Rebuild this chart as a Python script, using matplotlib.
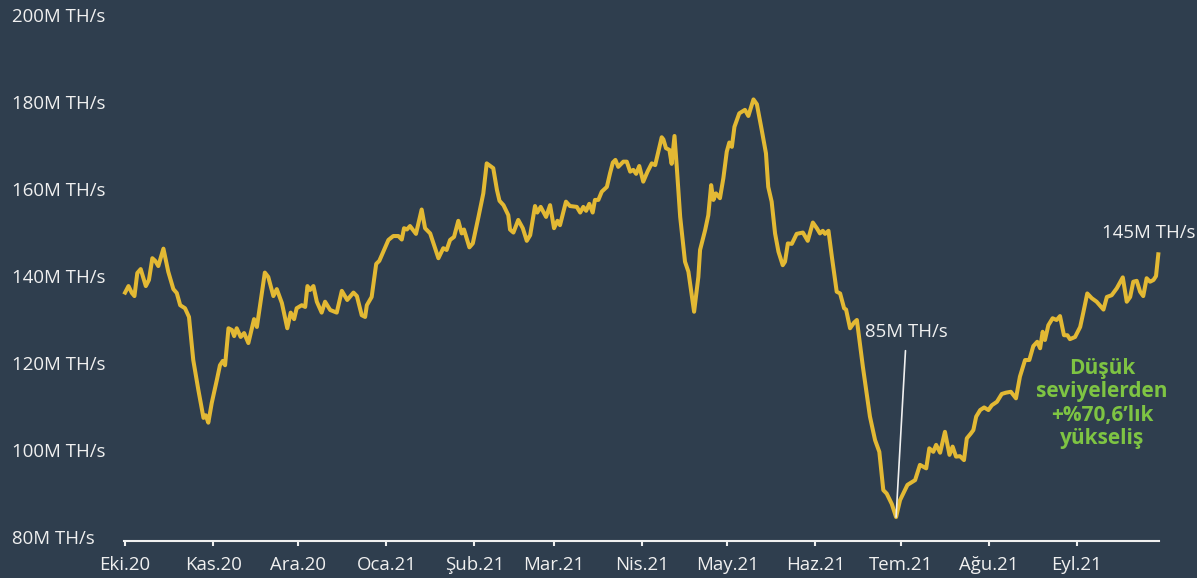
import matplotlib
matplotlib.use("Agg")
import matplotlib.pyplot as plt
import numpy as np
import pandas as pd

START = pd.Timestamp("2020-10-01")

# days since START
days = [
    0.0, 1.2, 2.4, 3.3, 4.3, 5.5, 7.3, 8.4, 9.6, 10.6,
    11.7, 13.5, 15.2, 17.0, 18.2, 19.4, 21.1, 22.5, 24.0, 25.8,
    27.6, 28.4, 29.3, 30.5, 32.3, 33.4, 34.4, 35.2, 36.4, 37.6,
    38.4, 39.3, 40.7, 41.9, 43.4, 45.4, 46.4, 47.8, 49.2, 50.4,
    52.2, 53.4, 55.2, 57.1, 58.3, 59.5, 60.4, 62.2, 63.4, 64.2,
    65.1, 66.3, 67.5, 69.2, 70.4, 72.2, 74.5, 76.3, 78.2, 80.4,
    81.6, 83.3, 84.5, 85.1, 86.8, 88.4, 89.5,
    90.9, 92.7, 94.4, 96.2, 97.4, 98.2, 99.2, 100.3, 102.4, 104.4,
    105.6, 107.4, 110.3, 112.0, 113.2, 114.4, 115.8, 117.3, 118.5, 119.3,
    121.2, 122.4, 124.4, 126.1, 127.3, 129.6, 130.9, 131.8, 133.2, 134.9,
    135.5, 136.7, 138.4, 140.0, 141.4, 142.6, 144.3, 145.1, 146.3, 148.2,
    149.6, 151.0, 152.2, 153.1, 155.2, 156.6, 159.0, 160.2, 161.3, 162.3,
    163.4, 164.6, 165.4, 166.6, 167.8, 169.6, 170.7, 171.7, 172.6, 173.6,
    175.4, 176.6, 177.8, 178.9, 179.9, 181.0, 182.4, 183.9, 185.4, 186.6,
    187.7, 188.9, 189.5, 190.4, 191.6, 192.4, 193.4, 194.2,
    195.4, 197.1, 198.3, 200.3, 201.8, 202.4, 204.2, 205.3, 206.3, 207.1,
    208.0, 209.4, 210.6, 211.8, 212.7, 213.6, 214.5, 216.2, 218.2, 219.4,
    221.2, 222.4, 224.1, 225.6, 226.4, 227.6, 228.8, 230.0, 231.5, 232.3,
    233.3, 234.7, 236.4, 238.6, 240.3, 242.1, 243.5, 244.6, 245.6, 246.4,
    247.6, 248.8, 250.5, 251.7, 253.1, 253.8, 255.2, 256.6, 257.6, 259.7,
    262.2, 264.0, 265.5, 266.9, 268.1, 269.9, 271.4,
    272.8, 275.4, 278.1, 279.8, 282.0, 283.1, 284.5, 285.5, 286.9, 288.6,
    290.2, 291.3, 292.5, 293.9, 295.3, 296.3, 297.7, 298.6, 299.6, 301.0,
    302.4, 303.9, 305.1, 306.9, 308.6, 310.1, 311.8, 313.6, 315.0, 316.8,
    318.3, 319.7, 321.1, 322.1, 323.0, 323.8, 325.0, 326.5, 327.9, 329.1,
    330.5, 331.7, 332.6, 334.4, 336.2, 337.3, 338.7, 340.3, 342.0, 344.4,
    345.6, 347.3, 349.1, 351.2, 352.6, 353.8, 354.9, 356.1, 357.3, 358.4,
    359.6, 360.8, 362.0, 362.9, 363.7,
]

# hashrate, M TH/s
hashrate = [
    136.2, 137.7, 136.1, 135.4, 140.7, 141.6, 137.7, 139.1, 144.1, 143.5,
    142.3, 146.3, 141.0, 137.0, 136.1, 133.3, 132.6, 130.6, 120.7, 113.8,
    107.4, 108.0, 106.3, 110.8, 116.1, 119.5, 120.5, 119.5, 128.0, 127.6,
    126.2, 128.0, 126.0, 126.9, 124.6, 130.1, 128.3, 134.5, 140.8, 139.8,
    135.4, 137.0, 133.8, 128.0, 131.6, 130.1, 132.6, 133.3, 132.9, 137.7,
    136.8, 137.7, 134.1, 131.6, 134.1, 132.2, 131.6, 136.6, 134.5, 136.2,
    135.4, 131.0, 130.6, 133.3, 135.2, 142.8, 143.5,
    145.6, 148.3, 149.2, 149.2, 148.4, 151.0, 150.7, 151.5, 149.7, 155.3,
    151.0, 149.8, 144.1, 146.4, 146.0, 148.3, 149.0, 152.7, 149.8, 150.7,
    146.6, 147.5, 153.6, 159.0, 165.9, 164.8, 159.8, 157.3, 156.3, 154.0,
    150.7, 150.0, 152.9, 151.0, 148.1, 149.4, 156.1, 154.6, 155.9, 153.6,
    156.3, 151.0, 152.7, 151.7, 157.1, 156.1, 155.9, 154.6, 155.9, 155.0,
    156.6, 154.6, 157.5, 157.5, 159.4, 160.5, 163.6, 166.1, 166.7, 165.1,
    166.3, 166.3, 164.0, 164.4, 163.5, 165.3, 161.7, 164.0, 165.9, 165.5,
    168.6, 171.9, 171.4, 169.4, 169.0, 165.8, 172.2, 165.1,
    153.6, 143.3, 141.0, 131.8, 139.8, 146.0, 150.6, 154.0, 160.9, 157.5,
    159.0, 157.9, 162.5, 168.6, 170.7, 169.7, 174.3, 177.4, 178.2, 176.8,
    180.6, 179.5, 173.6, 168.2, 160.5, 157.1, 149.8, 145.6, 142.5, 143.3,
    147.5, 147.4, 149.7, 150.0, 148.1, 152.3, 151.0, 149.8, 150.4, 149.7,
    150.4, 144.4, 136.4, 136.0, 132.6, 132.3, 128.0, 129.3, 129.9, 119.2,
    107.7, 102.3, 99.6, 90.8, 90.0, 87.6, 84.6,
    88.5, 92.0, 93.1, 96.6, 95.8, 100.4, 99.6, 101.2, 99.4, 104.2,
    98.9, 100.8, 98.5, 98.6, 97.7, 102.7, 103.8, 104.6, 107.7, 109.2,
    109.8, 109.2, 110.3, 111.1, 112.9, 113.2, 113.4, 111.9, 116.9, 120.7,
    120.7, 123.9, 124.9, 123.4, 127.2, 125.3, 128.7, 130.3, 129.9, 130.8,
    126.4, 126.4, 125.5, 126.0, 128.3, 131.6, 136.0, 134.9, 134.1, 132.3,
    135.2, 135.6, 137.2, 139.7, 134.1, 135.2, 138.7, 138.9, 136.4, 135.4,
    139.5, 138.7, 139.1, 140.0, 145.0,
]

month_labels = ["Eki.20", "Kas.20", "Ara.20", "Oca.21", "Şub.21", "Mar.21",
                "Nis.21", "May.21", "Haz.21", "Tem.21", "Ağu.21", "Eyl.21"]
y_ticks = [80, 100, 120, 140, 160, 180, 200]

low_label = "85M TH/s"
last_label = "145M TH/s"
rise_label = "Düşük\nseviyelerden\n+%70,6’lık\nyükseliş"

BG = "#2f3e4e"
LINE = "#e3b934"
GREEN = "#7ec443"
TEXT = "#f0f0f0"


def load_settings():
    matplotlib.rcParams['font.family'] = 'sans-serif'
    matplotlib.rcParams['font.sans-serif'] = ['Open Sans', 'DejaVu Sans']
    matplotlib.rcParams['font.size'] = 13.4


def main():
    assert len(days) == len(hashrate)
    load_settings()
    dates = START + pd.to_timedelta(days, unit="D")

    fig = plt.figure(figsize=(11.97, 5.78), dpi=100, facecolor=BG)
    ax = fig.add_axes([0.1036, 0.064, 0.8643, 0.910])
    ax.set_facecolor(BG)

    ax.plot(dates, hashrate, color=LINE, lw=2.9, solid_joinstyle='round', clip_on=False)

    ax.set_ylim(79.1, 200)
    ax.set_xlim(START - pd.Timedelta(hours=9), START + pd.Timedelta(days=363.8))

    for side in ["left", "top", "right"]:
        ax.spines[side].set_visible(False)
    ax.spines["bottom"].set_color(TEXT)
    ax.spines["bottom"].set_linewidth(1.5)

    ax.set_yticks(y_ticks)
    ax.set_yticklabels([f"{v}M TH/s" for v in y_ticks])
    ax.tick_params(axis='y', length=0, pad=80.6, labelcolor=TEXT)
    for lbl in ax.get_yticklabels():
        lbl.set_horizontalalignment('left')

    month_ticks = pd.date_range(START, periods=len(month_labels), freq="MS")
    ax.set_xticks(month_ticks)
    ax.set_xticklabels(month_labels)
    ax.tick_params(axis='x', length=3.6, width=1.5, color=TEXT, labelcolor=TEXT, pad=7)

    i = int(np.argmin(hashrate))
    ax.annotate(low_label, xy=(dates[i], hashrate[i]),
                xytext=(START + pd.Timedelta(days=274.9), 126.0),
                ha='center', va='baseline', color=TEXT,
                arrowprops=dict(arrowstyle='-', color=TEXT, lw=1.2,
                                shrinkA=5, shrinkB=0, relpos=(0.5, 0)))

    ax.annotate(last_label, xy=(dates[-1], hashrate[-1]), xytext=(27, 11.7),
                textcoords='offset points', ha='right', va='baseline', color=TEXT)

    ax.text(START + pd.Timedelta(days=343.9), 110.7, rise_label, ha='center', va='center',
            color=GREEN, fontweight='bold', fontsize=15, linespacing=1.15)

    fig.savefig("out.png", dpi=100, facecolor=BG)


if __name__ == "__main__":
    main()
